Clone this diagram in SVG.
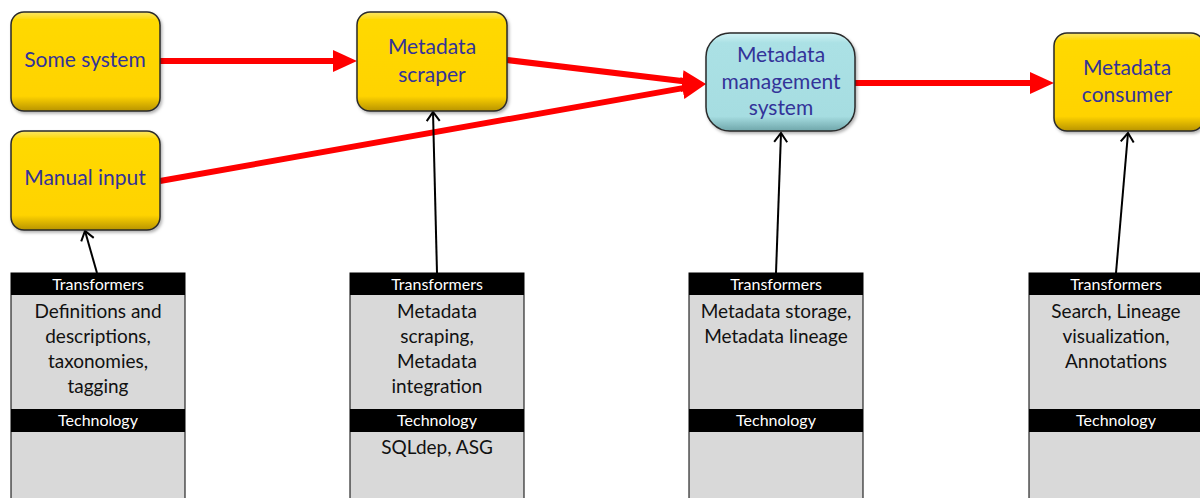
<svg xmlns="http://www.w3.org/2000/svg" width="1200" height="498" viewBox="0 0 1200 498">
  <defs>
    <linearGradient id="gYellow" x1="0" y1="0" x2="0" y2="1">
      <stop offset="0" stop-color="#fbe66a"/>
      <stop offset="0.08" stop-color="#ffd900"/>
      <stop offset="0.85" stop-color="#ffd300"/>
      <stop offset="1" stop-color="#b89400"/>
    </linearGradient>
    <linearGradient id="gCyan" x1="0" y1="0" x2="0" y2="1">
      <stop offset="0" stop-color="#d2f3f5"/>
      <stop offset="0.1" stop-color="#abe1e5"/>
      <stop offset="0.85" stop-color="#a6dde1"/>
      <stop offset="1" stop-color="#6fa6aa"/>
    </linearGradient>
    <filter id="shadow" x="-10%" y="-10%" width="130%" height="130%">
      <feDropShadow dx="1.5" dy="2" stdDeviation="1.5" flood-color="#000" flood-opacity="0.3"/>
    </filter>
    <marker id="redHead" markerUnits="userSpaceOnUse" markerWidth="26" markerHeight="24" viewBox="0 0 26 24" refX="12" refY="12" orient="auto">
      <path d="M0,1 L24,12 L0,23 z" fill="#ff0000"/>
    </marker>
    <marker id="blackHead" markerUnits="userSpaceOnUse" markerWidth="20" markerHeight="20" viewBox="0 0 20 20" refX="12" refY="10" orient="auto">
      <path d="M3,3.5 L12,10 L3,16.5" fill="none" stroke="#000" stroke-width="2"/>
    </marker>
  </defs>
  <style>
    .node { stroke: #2a2a2a; stroke-width: 1.5; filter: url(#shadow); }
    .yellow { fill: url(#gYellow); }
    .cyan { fill: url(#gCyan); }
    .ntext { font-family: Lato, "Liberation Sans", sans-serif; font-size: 21px; fill: #333399; text-anchor: middle; }
    .panel { fill: #d9d9d9; stroke: #000; stroke-width: 1; }
    .hdr { fill: #000; }
    .htext { font-family: Lato, "Liberation Sans", sans-serif; font-size: 16px; fill: #fff; text-anchor: middle; }
    .ptext { font-family: Lato, "Liberation Sans", sans-serif; font-size: 19px; fill: #111; text-anchor: middle; }
    .red { stroke: #ff0000; stroke-width: 6; fill: none; marker-end: url(#redHead); }
    .blk { stroke: #000; stroke-width: 2; fill: none; marker-end: url(#blackHead); }
  </style>

  <g id="panel-manual">
    <rect class="panel" x="11" y="273" width="174" height="230"/>
    <rect class="hdr" x="11" y="273" width="174" height="22"/>
    <text class="htext" x="98" y="290">Transformers</text>
    <text class="ptext" x="98" y="318">Definitions and</text>
    <text class="ptext" x="98" y="343">descriptions,</text>
    <text class="ptext" x="98" y="368">taxonomies,</text>
    <text class="ptext" x="98" y="393">tagging</text>
    <rect class="hdr" x="11" y="409" width="174" height="23"/>
    <text class="htext" x="98" y="426">Technology</text>
  </g>

  <g id="panel-scraper">
    <rect class="panel" x="350" y="273" width="174" height="230"/>
    <rect class="hdr" x="350" y="273" width="174" height="22"/>
    <text class="htext" x="437" y="290">Transformers</text>
    <text class="ptext" x="437" y="318">Metadata</text>
    <text class="ptext" x="437" y="343">scraping,</text>
    <text class="ptext" x="437" y="368">Metadata</text>
    <text class="ptext" x="437" y="393">integration</text>
    <rect class="hdr" x="350" y="409" width="174" height="23"/>
    <text class="htext" x="437" y="426">Technology</text>
    <text class="ptext" x="437" y="454">SQLdep, ASG</text>
  </g>

  <g id="panel-mms">
    <rect class="panel" x="689" y="273" width="174" height="230"/>
    <rect class="hdr" x="689" y="273" width="174" height="22"/>
    <text class="htext" x="776" y="290">Transformers</text>
    <text class="ptext" x="776" y="318">Metadata storage,</text>
    <text class="ptext" x="776" y="343">Metadata lineage</text>
    <rect class="hdr" x="689" y="409" width="174" height="23"/>
    <text class="htext" x="776" y="426">Technology</text>
  </g>

  <g id="panel-consumer">
    <rect class="panel" x="1029" y="273" width="174" height="230"/>
    <rect class="hdr" x="1029" y="273" width="174" height="22"/>
    <text class="htext" x="1116" y="290">Transformers</text>
    <text class="ptext" x="1116" y="318">Search, Lineage</text>
    <text class="ptext" x="1116" y="343">visualization,</text>
    <text class="ptext" x="1116" y="368">Annotations</text>
    <rect class="hdr" x="1029" y="409" width="174" height="23"/>
    <text class="htext" x="1116" y="426">Technology</text>
  </g>

  <g id="connectors">
    <line class="red" x1="160" y1="61" x2="345" y2="61"/>
    <line class="red" x1="507" y1="60" x2="694.1" y2="82.6"/>
    <line class="red" x1="160" y1="181" x2="694.2" y2="86.1"/>
    <line class="red" x1="855" y1="83" x2="1042" y2="83"/>
    <line class="blk" x1="97" y1="273" x2="85" y2="231"/>
    <line class="blk" x1="437" y1="273" x2="433" y2="112"/>
    <line class="blk" x1="776" y1="273" x2="781" y2="133"/>
    <line class="blk" x1="1116" y1="273" x2="1128" y2="133"/>
  </g>

  <g id="node-some-system">
    <rect class="node yellow" x="11" y="12" width="149" height="99" rx="13"/>
    <text class="ntext" x="85" y="67">Some system</text>
  </g>

  <g id="node-manual-input">
    <rect class="node yellow" x="11" y="131" width="149" height="99" rx="13"/>
    <text class="ntext" x="85" y="185">Manual input</text>
  </g>

  <g id="node-scraper">
    <rect class="node yellow" x="357" y="12" width="150" height="99" rx="13"/>
    <text class="ntext" x="432" y="54">Metadata</text>
    <text class="ntext" x="432" y="82">scraper</text>
  </g>

  <g id="node-mms">
    <rect class="node cyan" x="706" y="33" width="149" height="98" rx="24"/>
    <text class="ntext" x="781" y="62">Metadata</text>
    <text class="ntext" x="781" y="89">management</text>
    <text class="ntext" x="781" y="115">system</text>
  </g>

  <g id="node-consumer">
    <rect class="node yellow" x="1054" y="33" width="150" height="98" rx="13"/>
    <text class="ntext" x="1127" y="75">Metadata</text>
    <text class="ntext" x="1127" y="102">consumer</text>
  </g>
</svg>
